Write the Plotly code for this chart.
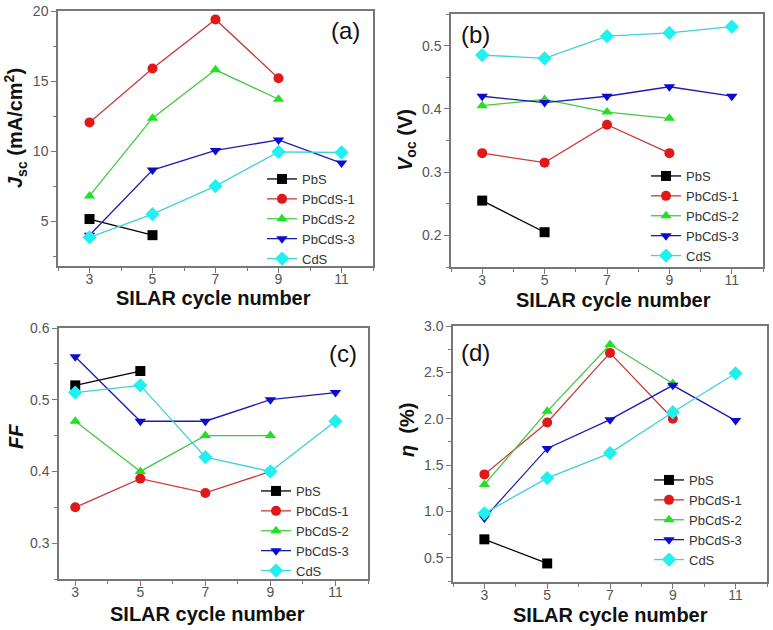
import plotly.graph_objects as go

W, H = 773, 630

series_names = ["PbS", "PbCdS-1", "PbCdS-2", "PbCdS-3", "CdS"]
line_colors = ["#000000", "#c83c3c", "#44c844", "#1c1cb0", "#40d0d8"]
marker_colors = ["#000000", "#e01818", "#22e022", "#0a0ad0", "#20f0f0"]
symbols = ["square", "circle", "triangle-up", "triangle-down", "diamond"]

cycles_pbs = [3, 5]
cycles_4 = [3, 5, 7, 9]
cycles_5 = [3, 5, 7, 9, 11]
x_sets = [cycles_pbs, cycles_4, cycles_4, cycles_5, cycles_5]

# (a) Jsc (mA/cm2)
jsc_pbs = [5.15, 4.0]
jsc_pbcds1 = [12.05, 15.9, 19.4, 15.2]
jsc_pbcds2 = [6.8, 12.35, 15.8, 13.7]
jsc_pbcds3 = [4.0, 8.65, 10.05, 10.8, 9.15]
jsc_cds = [3.85, 5.5, 7.5, 9.95, 9.9]

# (b) Voc (V)
voc_pbs = [0.255, 0.205]
voc_pbcds1 = [0.33, 0.315, 0.375, 0.33]
voc_pbcds2 = [0.405, 0.415, 0.395, 0.385]
voc_pbcds3 = [0.42, 0.41, 0.42, 0.435, 0.42]
voc_cds = [0.485, 0.48, 0.515, 0.52, 0.53]

# (c) FF
ff_pbs = [0.52, 0.54]
ff_pbcds1 = [0.35, 0.39, 0.37, 0.40]
ff_pbcds2 = [0.47, 0.40, 0.45, 0.45]
ff_pbcds3 = [0.56, 0.47, 0.47, 0.50, 0.51]
ff_cds = [0.51, 0.52, 0.42, 0.40, 0.47]

# (d) eta (%)
eta_pbs = [0.70, 0.44]
eta_pbcds1 = [1.40, 1.96, 2.71, 2.00]
eta_pbcds2 = [1.29, 2.08, 2.80, 2.38]
eta_pbcds3 = [0.93, 1.68, 1.99, 2.36, 1.98]
eta_cds = [0.98, 1.36, 1.63, 2.07, 2.49]

panels = [
    dict(ys=[jsc_pbs, jsc_pbcds1, jsc_pbcds2, jsc_pbcds3, jsc_cds],
         xr=[2, 12], yr=[1.8, 20], dt=5, mdt=2.5, t0=5, fmt="d",
         xd=[58, 373], yd=[11, 266], label="(a)", lab_xy=(345, 30),
         ytitle="<b><i>J</i><sub>sc</sub> (mA/cm<sup>2</sup>)</b>", yt_xy=(16, 128),
         xt_xy=(213, 298), leg_xy=(262, 164)),
    dict(ys=[voc_pbs, voc_pbcds1, voc_pbcds2, voc_pbcds3, voc_cds],
         xr=[2, 12], yr=[0.15, 0.55], dt=0.1, mdt=0.05, t0=0.2, fmt=".1f",
         xd=[451, 763], yd=[14, 267], label="(b)", lab_xy=(475, 34),
         ytitle="<b><i>V</i><sub>oc</sub> (V)</b>", yt_xy=(406, 140),
         xt_xy=(613, 300), leg_xy=(646, 161)),
    dict(ys=[ff_pbs, ff_pbcds1, ff_pbcds2, ff_pbcds3, ff_cds],
         xr=[2.5, 12], yr=[0.25, 0.6], dt=0.1, mdt=0.05, t0=0.3, fmt=".1f",
         xd=[59, 368], yd=[328, 579], label="(c)", lab_xy=(343, 353),
         ytitle="<b><i>FF</i></b>", yt_xy=(16, 437),
         xt_xy=(208, 614), leg_xy=(256, 476)),
    dict(ys=[eta_pbs, eta_pbcds1, eta_pbcds2, eta_pbcds3, eta_cds],
         xr=[2, 12], yr=[0.24, 3.0], dt=0.5, mdt=0.25, t0=0.5, fmt=".1f",
         xd=[453, 767], yd=[326, 582], label="(d)", lab_xy=(475, 352),
         ytitle="<b><i>η</i>  (%)</b>", yt_xy=(407, 430),
         xt_xy=(610, 615), leg_xy=(649, 465)),
]

fig = go.Figure()
annotations = []
tick_font = dict(family="Liberation Sans, Arial", size=14, color="#555555")
frame_color = "#777777"

for i, p in enumerate(panels):
    n = "" if i == 0 else str(i + 1)
    xa, ya = "x" + n, "y" + n
    leg = "legend" + n
    for k in range(5):
        fig.add_trace(go.Scatter(
            x=x_sets[k], y=p["ys"][k], name=series_names[k], mode="lines+markers",
            xaxis=xa, yaxis=ya, legend=leg,
            line=dict(color=line_colors[k], width=1.3),
            marker=dict(symbol=symbols[k], size=10 if k != 4 else 11,
                        color=marker_colors[k], line=dict(width=0)),
        ))
    axis_common = dict(showgrid=False, zeroline=False, showline=True, mirror=True,
                       linecolor=frame_color, linewidth=1.5, ticks="outside",
                       ticklen=5, tickwidth=1.2, tickcolor=frame_color,
                       tickfont=tick_font, automargin=False)
    fig.update_layout(**{
        "xaxis" + n: dict(domain=[p["xd"][0] / W, p["xd"][1] / W], range=p["xr"],
                          anchor=ya, tick0=3, dtick=2, ticklabelstandoff=-6,
                          minor=dict(ticks="outside", dtick=1, tick0=3, ticklen=3,
                                     tickcolor=frame_color),
                          **axis_common),
        "yaxis" + n: dict(domain=[1 - p["yd"][1] / H, 1 - p["yd"][0] / H], range=p["yr"],
                          anchor=xa, tick0=p["t0"], dtick=p["dt"], tickformat=p["fmt"],
                          minor=dict(ticks="outside", dtick=p["mdt"], tick0=p["t0"],
                                     ticklen=3, tickcolor=frame_color),
                          **axis_common),
        leg: dict(x=p["leg_xy"][0] / W, y=1 - p["leg_xy"][1] / H, xanchor="left",
                  yanchor="top", bgcolor="rgba(0,0,0,0)",
                  font=dict(family="Liberation Sans, Arial", size=13, color="#333333"),
                  itemwidth=30, tracegroupgap=0),
    })
    annotations.append(dict(text=p["label"], x=p["lab_xy"][0] / W, y=1 - p["lab_xy"][1] / H,
                            xref="paper", yref="paper", showarrow=False,
                            xanchor="center", yanchor="middle",
                            font=dict(family="Liberation Sans, Arial", size=24, color="#111111")))
    annotations.append(dict(text=p["ytitle"], x=p["yt_xy"][0] / W, y=1 - p["yt_xy"][1] / H,
                            xref="paper", yref="paper", showarrow=False, textangle=-90,
                            xanchor="center", yanchor="middle",
                            font=dict(family="Liberation Sans, Arial", size=20, color="#111111")))
    annotations.append(dict(text="<b>SILAR cycle number</b>", x=p["xt_xy"][0] / W,
                            y=1 - p["xt_xy"][1] / H, xref="paper", yref="paper",
                            showarrow=False, xanchor="center", yanchor="middle",
                            font=dict(family="Liberation Sans, Arial", size=20, color="#111111")))

fig.update_layout(width=W, height=H, margin=dict(l=0, r=0, t=0, b=0),
                  paper_bgcolor="white", plot_bgcolor="white",
                  annotations=annotations, showlegend=True)

fig.write_html("out.html", config={"displayModeBar": False},
               post_script="document.body.style.margin='0';")
